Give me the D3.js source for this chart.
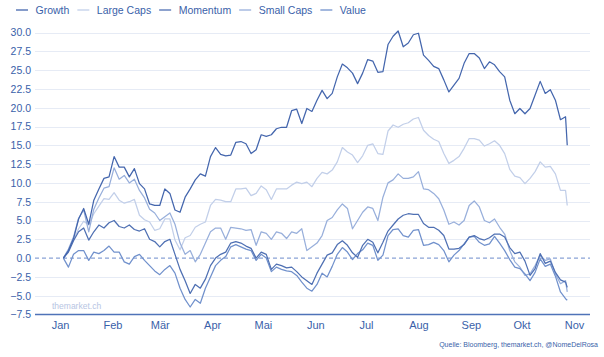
<!DOCTYPE html>
<html><head><meta charset="utf-8">
<script src="https://cdn.jsdelivr.net/npm/d3@7"></script>
<style>html,body{margin:0;padding:0;background:#fff;}svg{display:block;font-family:"Liberation Sans",Arial,sans-serif;}</style>
</head><body><svg id="c" width="604" height="357"></svg>
<script>
const dates = ["01-03","01-06","01-09","01-12","01-15","01-18","01-21","01-24","01-27","01-30",
"02-02","02-05","02-08","02-11","02-14","02-17","02-20","02-23","02-26",
"03-01","03-04","03-07","03-10","03-13","03-16","03-19","03-22","03-25","03-28","03-31",
"04-03","04-06","04-09","04-12","04-15","04-18","04-21","04-24","04-27","04-30",
"05-03","05-06","05-09","05-12","05-15","05-18","05-21","05-24","05-27","05-30",
"06-02","06-05","06-08","06-11","06-14","06-17","06-20","06-23","06-26","06-29",
"07-02","07-05","07-08","07-11","07-14","07-17","07-20","07-23","07-26","07-29",
"08-01","08-04","08-07","08-10","08-13","08-16","08-19","08-22","08-25","08-28","08-31",
"09-03","09-06","09-09","09-12","09-15","09-18","09-21","09-24","09-27","09-30",
"10-03","10-06","10-09","10-12","10-15","10-18","10-21","10-24","10-27","10-28"];
const year = 2021;

const growth = [0.0,1.0,2.6,5.2,6.6,4.5,7.7,9.2,10.6,10.8,
13.5,12.1,12.1,10.8,11.9,9.9,9.2,7.2,7.0,
7.0,9.2,8.6,6.4,6.1,8.1,9.2,10.4,11.2,10.9,13.5,
14.7,13.8,13.6,13.7,15.4,15.5,15.2,13.9,14.4,16.4,
16.2,16.4,17.2,17.4,17.4,19.6,19.8,17.9,19.9,19.5,
21.0,22.3,21.2,21.9,24.1,25.8,25.3,24.6,23.2,24.6,
26.4,26.2,24.7,24.8,28.4,29.5,30.2,28.1,28.6,29.7,
29.9,27.0,26.3,25.5,25.2,23.7,22.1,23.0,23.9,25.9,27.2,
27.2,26.6,25.2,26.1,25.7,24.8,24.1,21.0,19.2,19.9,
19.2,19.9,21.7,23.5,21.9,22.4,21.0,18.4,18.8,15.0];

const largeCaps = [0.0,1.0,2.4,3.9,4.9,4.4,5.9,6.9,7.9,7.8,
8.7,7.7,7.3,7.5,7.8,5.7,5.1,4.8,3.7,
3.9,5.2,5.2,2.4,1.1,2.7,3.0,4.1,4.5,4.8,7.0,
7.8,7.7,7.5,7.5,9.2,9.2,9.3,8.3,8.6,9.6,
9.1,7.8,9.2,9.2,9.2,9.7,10.1,9.9,10.1,9.5,
10.6,11.4,11.2,11.7,12.8,14.7,14.1,13.7,12.7,13.6,
15.0,15.2,13.9,13.8,16.9,17.7,17.4,17.8,18.0,18.5,
18.7,17.0,16.3,15.8,15.5,13.9,12.6,13.0,13.5,14.6,15.9,
15.9,15.7,14.9,15.2,15.6,15.0,13.9,11.8,10.9,10.7,
9.9,10.6,11.5,12.8,12.1,12.2,11.2,9.0,9.0,7.0];

const momentum = [0.0,0.8,2.3,3.5,4.0,2.4,3.5,4.4,4.0,4.7,
5.0,4.2,4.0,4.4,3.8,3.6,3.9,2.5,2.2,
1.5,2.2,2.5,0.5,-1.5,-3.0,-4.7,-3.5,-4.0,-2.8,-1.0,
0.0,0.5,0.8,2.0,2.2,2.0,1.6,1.3,0.0,0.8,
0.5,-1.5,-0.8,-1.0,-1.3,-1.2,-1.8,-2.5,-3.0,-3.5,
-2.0,-0.8,0.4,0.7,1.8,2.3,1.7,0.7,0.1,1.7,
2.5,2.1,0.7,2.1,3.6,4.4,5.2,5.7,5.9,5.8,
5.8,4.6,4.1,4.1,3.7,3.0,1.2,1.2,1.3,1.8,2.8,
3.0,2.6,2.4,2.7,3.2,3.2,2.8,1.4,0.6,0.8,
-0.4,-2.3,-1.4,0.6,-0.7,-0.4,-1.9,-2.9,-3.2,-3.9];

const smallCaps = [0.0,1.2,2.8,5.3,6.4,3.5,6.5,8.0,9.3,9.5,
12.0,10.5,11.0,10.0,10.5,9.0,8.0,6.5,6.0,
5.0,5.5,6.0,4.5,2.0,0.5,1.0,-0.5,0.5,2.0,3.5,
4.0,4.0,2.5,4.1,4.0,3.9,3.7,3.8,1.7,3.5,
3.3,2.5,3.5,3.3,2.6,3.5,3.3,3.9,1.0,1.5,
2.0,3.0,5.0,5.4,6.4,7.2,6.6,3.9,5.0,6.1,
6.8,6.6,5.0,8.1,10.0,10.4,11.2,10.6,10.6,10.8,
11.5,9.2,9.1,8.6,7.9,6.4,4.5,4.8,4.4,5.0,7.0,
7.6,6.8,5.0,4.7,5.2,4.1,3.2,1.0,-0.5,-1.2,
-2.3,-2.1,-1.0,0.4,-0.3,-0.1,-2.1,-3.4,-3.0,-4.5];

const value = [0.0,-1.2,0.5,1.0,1.0,-0.3,0.8,0.6,1.0,1.6,
0.8,0.8,-0.5,-0.8,0.2,0.5,-0.3,-1.0,-1.7,
-2.2,-1.5,-1.0,-2.0,-4.0,-5.5,-6.5,-5.5,-6.0,-4.0,-2.5,
-1.0,-0.3,0.2,1.5,1.8,1.5,1.2,1.0,-0.3,0.5,
0.0,-1.8,-1.2,-1.5,-1.7,-1.8,-2.3,-3.2,-4.0,-4.4,
-3.5,-2.0,-2.5,-1.1,0.5,1.4,0.8,-0.2,0.6,1.1,
2.0,1.7,-0.3,0.4,3.0,3.8,3.9,3.0,2.8,3.7,
3.8,1.7,1.8,2.1,1.8,1.0,-0.5,0.4,1.0,1.9,2.8,
2.9,2.1,1.7,1.9,2.9,2.0,1.0,-0.2,-1.2,-1.4,
-2.1,-3.0,-1.9,-0.1,-1.1,-0.8,-2.4,-4.5,-5.4,-5.6];

const seriesNames = ["Growth","Large Caps","Momentum","Small Caps","Value"];
const seriesValues = [growth, largeCaps, momentum, smallCaps, value];
const seriesColors = ["#4466ad","#c2cfe9","#4f70b3","#98afdb","#7191cc"];
const yTicks = [-7.5,-5,-2.5,0,2.5,5,7.5,10,12.5,15,17.5,20,22.5,25,27.5,30];
const monthLabels = ["Jan","Feb","Mär","Apr","Mai","Jun","Jul","Aug","Sep","Okt","Nov"];
const sourceText = "Quelle: Bloomberg, themarket.ch, @NomeDelRosa";
const watermark = "themarket.ch";

const textColor = "#3a5fa9";
const svg = d3.select("#c");
const parse = d3.timeParse("%Y-%m-%d");
const dateObjs = dates.map(d => parse(year + "-" + d));

const x = d3.scaleTime().domain([new Date(year,0,1), new Date(year,10,1)]).range([60, 574]);
const y = d3.scaleLinear().domain([-7.5, 30]).range([314.5, 32.5]);
const gridX0 = 35, gridX1 = 590;

// gridlines
svg.append("g").selectAll("line").data(yTicks.filter(t => t !== 0 && t !== -7.5)).join("line")
  .attr("x1", gridX0).attr("x2", gridX1)
  .attr("y1", d => Math.round(y(d)) + 0.5).attr("y2", d => Math.round(y(d)) + 0.5)
  .attr("stroke", "#e6ebf5").attr("stroke-width", 1);

// zero dashed line
svg.append("line").attr("x1", gridX0).attr("x2", gridX1)
  .attr("y1", y(0)).attr("y2", y(0))
  .attr("stroke", "#8aa3d6").attr("stroke-width", 1.2).attr("stroke-dasharray", "4,3");

// y tick labels
const yAxis = d3.axisLeft(y).tickValues(yTicks).tickFormat(d3.format(".1f")).tickSize(0).tickPadding(0);
const yg = svg.append("g").attr("transform", "translate(31,0)").call(yAxis);
yg.select(".domain").remove();
yg.selectAll("text").attr("fill", textColor).style("font-size", "10.5px")
  .style("font-family", '"Liberation Sans",Arial,sans-serif');

// watermark
svg.append("text").attr("x", 52).attr("y", 308.5).text(watermark)
  .attr("fill", "#b7c5e3").style("font-size", "8.5px");

// lines
const line = d3.line().x((d, i) => x(dateObjs[i])).y(d => y(d));
const order = [1, 3, 4, 2, 0];
svg.append("g").selectAll("path").data(order).join("path")
  .attr("d", i => line(seriesValues[i]))
  .attr("fill", "none").attr("stroke", i => seriesColors[i])
  .attr("stroke-width", 1.25).attr("stroke-linejoin", "round");

// x axis
const monthDates = monthLabels.map((m, i) => new Date(year, i, 1));
const xAxis = d3.axisBottom(x).tickValues(monthDates).tickFormat((d, i) => monthLabels[i]).tickSize(0).tickPadding(7);
const xg = svg.append("g").attr("transform", "translate(0,314.5)").call(xAxis);
xg.select(".domain").remove();
xg.selectAll("text").attr("fill", textColor).style("font-size", "11px")
  .style("font-family", '"Liberation Sans",Arial,sans-serif');
svg.append("line").attr("x1", gridX0).attr("x2", gridX1).attr("y1", 314.5).attr("y2", 314.5)
  .attr("stroke", "#4f73b8").attr("stroke-width", 1.5);

// legend
const lg = svg.append("g").attr("transform", "translate(0,10)");
let lx = 16;
seriesNames.forEach((name, i) => {
  lg.append("line").attr("x1", lx).attr("x2", lx + 12).attr("y1", 0).attr("y2", 0)
    .attr("stroke", seriesColors[i]).attr("stroke-width", 1.3);
  const t = lg.append("text").attr("x", lx + 19.5).attr("y", 0).attr("dy", "0.35em")
    .text(name).attr("fill", textColor).style("font-size", "10.5px");
  lx = lx + 19.5 + t.node().getComputedTextLength() + 8;
});

// source
svg.append("text").attr("x", 598).attr("y", 347).attr("text-anchor", "end")
  .text(sourceText).attr("fill", textColor).style("font-size", "7px");
</script></body></html>
